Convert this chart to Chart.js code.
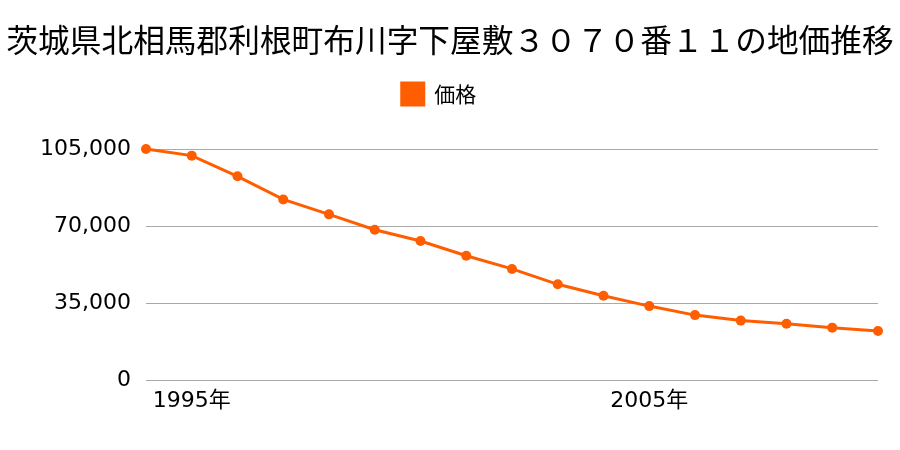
<!DOCTYPE html>
<html>
<head>
<meta charset="utf-8">
<script src="https://cdn.jsdelivr.net/npm/chart.js@4"></script>
<style>
html,body{margin:0;padding:0;background:#fff;}
#wrap{width:900px;height:450px;}
</style>
</head>
<body>
<div id="wrap"><canvas id="c" width="900" height="450"></canvas></div>
<script>
const titleText = "茨城県北相馬郡利根町布川字下屋敷３０７０番１１の地価推移";
const seriesName = "価格";
const years = [1994,1995,1996,1997,1998,1999,2000,2001,2002,2003,2004,2005,2006,2007,2008,2009,2010];
const prices = [105000,102000,92600,82100,75300,68300,63200,56500,50500,43500,38300,33600,29500,27000,25600,23800,22300];
const yTicks = [0,35000,70000,105000];

const FONT = "'Noto Sans CJK JP','Noto Sans',sans-serif";
const NUMFONT = "'DejaVu Sans','Noto Sans CJK JP',sans-serif";
const legendGap = {
  id: 'legendGap',
  beforeInit(chart) {
    const fit = chart.legend.fit;
    chart.legend.fit = function() { fit.bind(this)(); this.height += 34; };
  },
  afterLayout(chart) {
    const lg = chart.legend;
    lg.right = lg.left + 878;
    lg.width = 878;
  }
};
new Chart(document.getElementById('c'), {
  type: 'line',
  data: {
    labels: years.map(y => y + "年"),
    datasets: [{
      label: seriesName,
      data: prices,
      borderColor: 'rgb(255,94,0)',
      backgroundColor: 'rgb(255,94,0)',
      pointBackgroundColor: 'rgb(255,94,0)',
      pointBorderColor: 'rgb(255,94,0)',
      pointBorderWidth: 0,
      borderWidth: 3,
      pointRadius: 5,
      tension: 0,
      clip: false
    }]
  },
  plugins: [legendGap],
  options: {
    responsive: false,
    animation: false,
    layout: { padding: 0 },
    plugins: {
      title: {
        display: true, text: titleText, color: '#000',
        font: { family: FONT, size: 31.7, weight: 'normal' },
        padding: { top: 21, bottom: 14 }
      },
      legend: {
        display: true,
        labels: {
          color: '#000',
          font: { family: FONT, size: 21 },
          boxWidth: 22, boxHeight: 22, padding: 10
        }
      },
      tooltip: { enabled: false }
    },
    scales: {
      x: {
        grid: { display: false, drawTicks: false },
        border: { display: false },
        ticks: {
          color: '#000', font: { family: NUMFONT, size: 22 }, padding: 8,
          maxRotation: 0, autoSkip: false,
          callback: function(v, i) { return (years[i] % 10 === 5) ? this.getLabelForValue(v) : ''; }
        },
        afterFit: s => { s.height = 70; }
      },
      y: {
        min: 0, max: 105000,
        afterBuildTicks: s => { s.ticks = yTicks.map(v => ({ value: v })); },
        grid: { color: '#aaaaaa', drawTicks: false, lineWidth: 1 },
        border: { display: false },
        ticks: {
          color: '#000', font: { family: NUMFONT, size: 22 }, padding: 15,
          callback: v => v.toLocaleString('en-US')
        },
        afterFit: s => { s.width = 146; }
      },
      yRight: {
        position: 'right',
        display: true,
        grid: { display: false, drawTicks: false },
        border: { display: false },
        ticks: { display: false },
        afterFit: s => { s.width = 22; }
      }
    }
  }
});
</script>
</body>
</html>
